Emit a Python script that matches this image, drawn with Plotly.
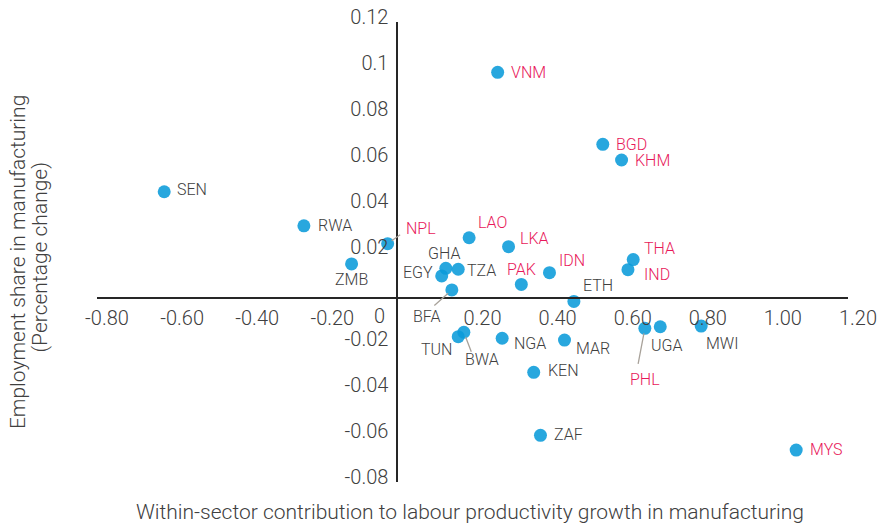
import plotly.graph_objects as go

# ---- data ----
codes = ["SEN", "RWA", "NPL", "ZMB", "VNM", "BGD", "KHM", "LAO", "LKA", "IDN",
         "PAK", "THA", "IND", "ETH", "GHA", "TZA", "EGY", "BFA", "TUN", "BWA",
         "NGA", "MAR", "KEN", "ZAF", "PHL", "UGA", "MWI", "MYS"]
productivity = [-0.621, -0.249, -0.026, -0.122, 0.267, 0.547, 0.597, 0.191, 0.296, 0.405,
                0.330, 0.628, 0.614, 0.470, 0.129, 0.162, 0.118, 0.145, 0.162, 0.177,
                0.279, 0.445, 0.363, 0.381, 0.659, 0.700, 0.809, 1.062]
employment = [0.0462, 0.0314, 0.0236, 0.0148, 0.0981, 0.0668, 0.0600, 0.0262, 0.0223, 0.0110,
              0.0059, 0.0167, 0.0123, -0.0015, 0.0129, 0.0125, 0.0096, 0.0035, -0.0168, -0.0149,
              -0.0175, -0.0183, -0.0323, -0.0597, -0.0132, -0.0125, -0.0122, -0.0661]
asia = {"NPL", "VNM", "BGD", "KHM", "LAO", "LKA", "IDN", "PAK", "THA", "IND", "PHL", "MYS"}

x_tickvals = [-0.8, -0.6, -0.4, -0.2, 0.2, 0.4, 0.6, 0.8, 1.0, 1.2]
x_ticktext = ["-0.80", "-0.60", "-0.40", "-0.20", "0.20", "0.40", "0.60", "0.80", "1.00", "1.20"]
y_tickvals = [0.12, 0.10, 0.08, 0.06, 0.04, 0.02, -0.02, -0.04, -0.06, -0.08]
y_ticktext = ["0.12", "0.1", "0.08", "0.06", "0.04", "0.02", "-0.02", "-0.04", "-0.06", "-0.08"]

# ---- styling: label placement (anchor, dx px, dy px screen-down) ----
label_pos = {
    "SEN": ("left", 11, -2), "RWA": ("left", 12, 0), "NPL": ("left", 16, -15),
    "ZMB": ("center", 0, 16), "VNM": ("left", 11, 0), "BGD": ("left", 11, 0),
    "KHM": ("left", 11, 0), "LAO": ("left", 7, -15), "LKA": ("left", 9, -8),
    "IDN": ("left", 8, -12), "PAK": ("center", 0, -15), "THA": ("left", 9, -11),
    "IND": ("left", 14, 5), "ETH": ("left", 7, -16), "GHA": ("center", -2, -15),
    "TZA": ("left", 7, 1), "EGY": ("right", -7, -3), "BFA": ("center", -25, 27),
    "TUN": ("right", -4, 13), "BWA": ("center", 18, 27), "NGA": ("left", 10, 5),
    "MAR": ("left", 9, 8), "KEN": ("left", 12, -2), "ZAF": ("left", 12, -1),
    "PHL": ("center", 0, 51), "UGA": ("center", 6, 19), "MWI": ("left", 3, 17),
    "MYS": ("left", 12, -1),
}
leaders = {"NPL": (14, -10), "BFA": (-19, 17), "BWA": (8, 21), "PHL": (-7, 37)}

PINK = "#E8185A"
GRAY = "#404040"
FONT = "Roboto"

fig = go.Figure()
fig.add_trace(go.Scatter(
    x=productivity, y=employment, mode="markers", text=codes,
    marker=dict(size=13, color="rgba(10,155,218,0.88)", line=dict(width=0)),
    hoverinfo="text+x+y", showlegend=False,
))

annotations = []
for c, xv, yv in zip(codes, productivity, employment):
    anc, dx, dy = label_pos[c]
    annotations.append(dict(
        x=xv, y=yv, xref="x", yref="y", text=c, showarrow=False,
        xanchor=anc, yanchor="middle", xshift=dx, yshift=-dy,
        font=dict(family=FONT, size=16, color=PINK if c in asia else GRAY, weight=300),
    ))
    if c in leaders:
        lx, ly = leaders[c]
        annotations.append(dict(
            x=xv, y=yv, xref="x", yref="y", text="", showarrow=True,
            ax=lx, ay=ly, arrowhead=0, arrowwidth=1.3, arrowcolor="#A8A29A",
            standoff=5,
        ))

# zero label
annotations.append(dict(x=0, y=0, xref="x", yref="y", text="0", showarrow=False,
                        xanchor="right", yanchor="top", xshift=-10, yshift=-4,
                        font=dict(family=FONT, size=20, color=GRAY, weight=300)))
# axis titles
annotations.append(dict(x=0.4967, y=-0.065, xref="paper", yref="paper",
                        text="Within-sector contribution to labour productivity growth in manufacturing",
                        showarrow=False, xanchor="center", yanchor="middle",
                        font=dict(family=FONT, size=21, color=GRAY, weight=300)))
annotations.append(dict(x=-0.1052, y=0.478, xref="paper", yref="paper",
                        text="Employment share in manufacturing",
                        showarrow=False, xanchor="center", yanchor="middle", textangle=-90,
                        font=dict(family=FONT, size=21, color=GRAY, weight=300)))
annotations.append(dict(x=-0.0759, y=0.49, xref="paper", yref="paper",
                        text="(Percentage change)",
                        showarrow=False, xanchor="center", yanchor="middle", textangle=-90,
                        font=dict(family=FONT, size=21, color=GRAY, weight=300)))

fig.update_layout(
    width=883, height=525,
    margin=dict(l=97, r=35, t=22, b=43),
    paper_bgcolor="white", plot_bgcolor="white",
    font=dict(family=FONT, color=GRAY),
    annotations=annotations,
    xaxis=dict(range=[-0.8, 1.2], tickvals=x_tickvals, ticktext=x_ticktext,
               showgrid=False, zeroline=False, showline=True, linecolor="#262626",
               linewidth=2, ticks="", anchor="free", position=0.4, automargin=False,
               ticklabelshift=10, ticklabelstandoff=2,
               tickfont=dict(family=FONT, size=20, color=GRAY, weight=300)),
    yaxis=dict(range=[-0.08, 0.12], tickvals=y_tickvals, ticktext=y_ticktext,
               showgrid=False, zeroline=False, showline=True, linecolor="#262626",
               linewidth=2, ticks="", anchor="free", position=0.4, automargin=False,
               ticklabelshift=-5, ticklabelstandoff=4,
               tickfont=dict(family=FONT, size=20, color=GRAY, weight=300)),
)

fig.write_html("out.html", config={"displayModeBar": False},
               post_script="document.body.style.margin='0px';")
